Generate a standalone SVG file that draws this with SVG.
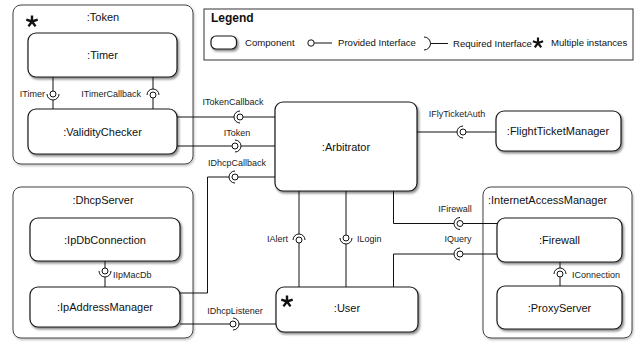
<svg xmlns="http://www.w3.org/2000/svg" width="636" height="342" viewBox="0 0 636 342">
<style>
.cont{fill:#fff;stroke:#444;stroke-width:1;filter:url(#shl)}
.comp{fill:#fff;stroke:#1a1a1a;stroke-width:1.2;filter:url(#sh)}
.lbl{font-family:"Liberation Sans",Arial,sans-serif;font-size:11px;fill:#111}
.il{font-family:"Liberation Sans",Arial,sans-serif;font-size:9px;fill:#222}
.lg{font-family:"Liberation Sans",Arial,sans-serif;font-size:9.6px;fill:#111}
.mid{text-anchor:middle}
.end{text-anchor:end}
.ln{fill:none;stroke:#111;stroke-width:1}
.ball{fill:#fff;stroke:#111;stroke-width:1}
.ast{fill:none;stroke:#111;stroke-width:2.4;stroke-linecap:butt}
</style>
<defs>
<filter id="sh" x="-10%" y="-10%" width="130%" height="150%"><feDropShadow dx="1.5" dy="2" stdDeviation="1.2" flood-color="#000" flood-opacity="0.45"/></filter>
<filter id="shl" x="-10%" y="-10%" width="130%" height="130%"><feDropShadow dx="1" dy="1.5" stdDeviation="1" flood-color="#000" flood-opacity="0.25"/></filter>
<path id="star" class="ast" d="M0,0.5 L0,-6 M0,0 L5.71,-1.85 M0,0 L3.53,4.85 M0,0 L-3.53,4.85 M0,0 L-5.71,-1.85"/>
</defs>

<g id="legend">
<rect x="204" y="9" width="429" height="51" fill="#fff" stroke="#333" stroke-width="1"/>
<text x="211" y="22" font-family="Liberation Sans,Arial,sans-serif" font-size="12" font-weight="bold" fill="#111">Legend</text>
<rect x="211" y="36" width="25.5" height="13" rx="5" class="comp"/>
<text x="245" y="45.5" class="lg">Component</text>
<circle cx="311" cy="43" r="3.2" class="ball"/>
<line x1="314.2" y1="43" x2="332" y2="43" class="ln"/>
<text x="338" y="45.5" class="lg">Provided Interface</text>
<path d="M424,37 A6.5,6.5 0 0 1 424,50" class="ln"/>
<line x1="430.5" y1="43.5" x2="448" y2="43.5" class="ln"/>
<text x="453" y="46.5" class="lg">Required Interface</text>
<use href="#star" transform="translate(538,43) scale(0.9)"/>
<text x="551" y="46" class="lg">Multiple instances</text>
</g>

<g id="token">
<rect x="13" y="5" width="180" height="159" rx="8" class="cont"/>
<text x="103" y="21" class="lbl mid">:Token</text>
<use href="#star" transform="translate(32,21.5)"/>
</g>
<g id="timer">
<rect x="28" y="33" width="149" height="44" rx="8" class="comp"/>
<text x="102.5" y="59" class="lbl mid">:Timer</text>
</g>
<g id="validityChecker">
<rect x="28" y="109" width="149" height="45" rx="8" class="comp"/>
<text x="102.5" y="135.5" class="lbl mid">:ValidityChecker</text>
</g>

<g id="dhcpServer">
<rect x="13" y="187" width="180" height="151" rx="8" class="cont"/>
<text x="103" y="204" class="lbl mid">:DhcpServer</text>
</g>
<g id="ipDbConnection">
<rect x="30" y="218" width="150" height="43" rx="8" class="comp"/>
<text x="105" y="243.5" class="lbl mid">:IpDbConnection</text>
</g>
<g id="ipAddressManager">
<rect x="30" y="287" width="150" height="40" rx="8" class="comp"/>
<text x="105" y="311" class="lbl mid">:IpAddressManager</text>
</g>

<g id="arbitrator">
<rect x="275" y="102" width="142" height="89" rx="8" class="comp"/>
<text x="346" y="150.5" class="lbl mid">:Arbitrator</text>
</g>

<g id="flightTicketManager">
<rect x="496" y="111" width="125" height="40" rx="8" class="comp"/>
<text x="558" y="135" class="lbl mid">:FlightTicketManager</text>
</g>

<g id="user">
<rect x="276" y="287" width="142" height="45" rx="8" class="comp"/>
<text x="347" y="312" class="lbl mid">:User</text>
<use href="#star" transform="translate(287,301.5)"/>
</g>

<g id="internetAccessManager">
<rect x="483" y="187" width="149" height="151" rx="8" class="cont"/>
<text x="488" y="204" class="lbl">:InternetAccessManager</text>
</g>
<g id="firewall">
<rect x="497" y="218" width="125" height="44" rx="8" class="comp"/>
<text x="559.5" y="244" class="lbl mid">:Firewall</text>
</g>
<g id="proxyServer">
<rect x="497" y="286" width="125" height="43" rx="8" class="comp"/>
<text x="559.5" y="311.5" class="lbl mid">:ProxyServer</text>
</g>

<g id="connectors">
<line x1="53" y1="77" x2="53" y2="91" class="ln"/>
<circle cx="53" cy="94" r="3" class="ball"/>
<path d="M47,94 A6,6 0 0 0 59,94" class="ln"/>
<line x1="53" y1="100" x2="53" y2="109" class="ln"/>
<text x="45" y="97" class="il end">ITimer</text>

<line x1="153" y1="77" x2="153" y2="89" class="ln"/>
<path d="M147,95 A6,6 0 0 1 159,95" class="ln"/>
<circle cx="153" cy="95" r="3" class="ball"/>
<line x1="153" y1="98" x2="153" y2="109" class="ln"/>
<text x="141" y="97" class="il end">ITimerCallback</text>

<line x1="177" y1="117" x2="234" y2="117" class="ln"/>
<path d="M240,111 A6,6 0 0 0 240,123" class="ln"/>
<circle cx="240" cy="117" r="3" class="ball"/>
<line x1="243" y1="117" x2="275" y2="117" class="ln"/>
<text x="233" y="105" class="il mid">ITokenCallback</text>

<line x1="177" y1="146" x2="232" y2="146" class="ln"/>
<circle cx="235" cy="146" r="3" class="ball"/>
<path d="M235,140 A6,6 0 0 1 235,152" class="ln"/>
<line x1="241" y1="146" x2="275" y2="146" class="ln"/>
<text x="237" y="136" class="il mid">IToken</text>

<path d="M180,293 H207.5 V177 H229" class="ln"/>
<path d="M235,171 A6,6 0 0 0 235,183" class="ln"/>
<circle cx="235" cy="177" r="3" class="ball"/>
<line x1="238" y1="177" x2="275" y2="177" class="ln"/>
<text x="237" y="166" class="il mid">IDhcpCallback</text>

<line x1="180" y1="324" x2="230" y2="324" class="ln"/>
<circle cx="233" cy="324" r="3" class="ball"/>
<path d="M233,318 A6,6 0 0 1 233,330" class="ln"/>
<line x1="239" y1="324" x2="276" y2="324" class="ln"/>
<text x="235" y="314" class="il mid">IDhcpListener</text>

<line x1="417" y1="132" x2="457" y2="132" class="ln"/>
<path d="M463,126 A6,6 0 0 0 463,138" class="ln"/>
<circle cx="463" cy="132" r="3" class="ball"/>
<line x1="466" y1="132" x2="496" y2="132" class="ln"/>
<text x="457" y="117" class="il mid">IFlyTicketAuth</text>

<path d="M393.5,191 V223.5 H454" class="ln"/>
<path d="M460,217.5 A6,6 0 0 0 460,229.5" class="ln"/>
<circle cx="460" cy="223.5" r="3" class="ball"/>
<line x1="463" y1="223.5" x2="497" y2="223.5" class="ln"/>
<text x="455" y="212" class="il mid">IFirewall</text>

<path d="M393.5,287 V254 H454" class="ln"/>
<path d="M460,248 A6,6 0 0 0 460,260" class="ln"/>
<circle cx="460" cy="254" r="3" class="ball"/>
<line x1="463" y1="254" x2="497" y2="254" class="ln"/>
<text x="458" y="242" class="il mid">IQuery</text>

<line x1="299" y1="191" x2="299" y2="234" class="ln"/>
<path d="M293,240 A6,6 0 0 1 305,240" class="ln"/>
<circle cx="299" cy="240" r="3" class="ball"/>
<line x1="299" y1="243" x2="299" y2="287" class="ln"/>
<text x="288" y="242" class="il end">IAlert</text>

<line x1="346" y1="191" x2="346" y2="235" class="ln"/>
<circle cx="346" cy="238" r="3" class="ball"/>
<path d="M340,238 A6,6 0 0 0 352,238" class="ln"/>
<line x1="346" y1="244" x2="346" y2="287" class="ln"/>
<text x="357" y="242" class="il">ILogin</text>

<line x1="105" y1="261" x2="105" y2="268" class="ln"/>
<circle cx="105" cy="271" r="3" class="ball"/>
<path d="M99,271 A6,6 0 0 0 111,271" class="ln"/>
<line x1="105" y1="277" x2="105" y2="287" class="ln"/>
<text x="113" y="278" class="il">IIpMacDb</text>

<line x1="560" y1="262" x2="560" y2="268" class="ln"/>
<path d="M554,274 A6,6 0 0 1 566,274" class="ln"/>
<circle cx="560" cy="274" r="3" class="ball"/>
<line x1="560" y1="277" x2="560" y2="286" class="ln"/>
<text x="572" y="278" class="il">IConnection</text>
</g>
</svg>
